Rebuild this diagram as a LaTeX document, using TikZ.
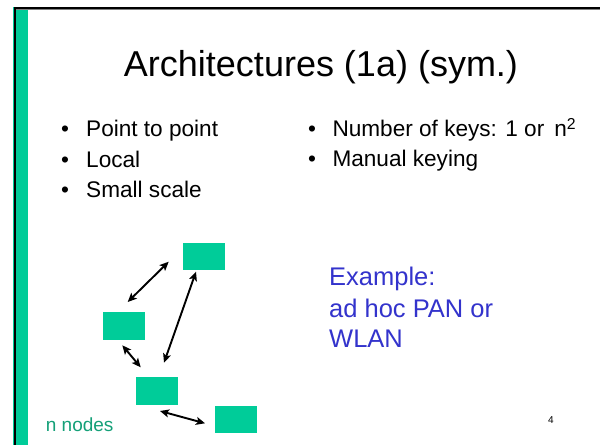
\documentclass[tikz,border=0pt]{standalone}
\usepackage{fontspec}
\setmainfont{Liberation Sans}
\usetikzlibrary{arrows.meta}
\definecolor{slidegreen}{RGB}{0,204,153}
\definecolor{notegreen}{RGB}{20,160,120}
\definecolor{exblue}{RGB}{51,51,204}
\tikzset{
  station/.style={fill=slidegreen, draw=none, minimum width=42pt, minimum height=27.5pt, inner sep=0pt},
  link/.style={line width=1.9pt, {Stealth[length=9pt,width=8pt,inset=2pt]}-{Stealth[length=9pt,width=8pt,inset=2pt]}},
  bullettext/.style={anchor=base west, inner sep=0pt, font=\fontsize{22.6}{26}\selectfont},
  bulletdot/.style={anchor=base, inner sep=0pt, font=\fontsize{22.6}{26}\selectfont},
  extext/.style={anchor=base west, inner sep=0pt, text=exblue, font=\fontsize{25.5}{30}\selectfont}
}
\begin{document}
\begin{tikzpicture}[x=1pt,y=-1pt]
\useasboundingbox (0,0) rectangle (600,445);
\fill[white] (0,0) rectangle (600,445);
% slide frame
\fill[slidegreen] (12.7,6.7) rectangle (27.7,445);
\fill[black] (14.3,6.7) rectangle (16,445);
\fill[black] (14.3,6.7) rectangle (600,8.8);
\fill[gray] (16,8.8) rectangle (600,9.6);
% title
\node[anchor=base, inner sep=0pt, font=\fontsize{36}{40}\selectfont] (title) at (321,76) {Architectures (1a) (sym.)};
% left bullets
\node[bulletdot] (d1) at (65,136.7) {•};
\node[bullettext] (b1) at (86,136.7) {Point to point};
\node[bulletdot] (d2) at (65,167.3) {•};
\node[bullettext] (b2) at (86,167.3) {Local};
\node[bulletdot] (d3) at (65,197.3) {•};
\node[bullettext] (b3) at (86,197.3) {Small scale};
% right bullets
\node[bulletdot] (d4) at (312,136.7) {•};
\node[bullettext] (b4) at (332.3,136.7) {Number of keys: 1 or\, n\textsuperscript{2}};
\node[bulletdot] (d5) at (312,166.7) {•};
\node[bullettext] (b5) at (332.3,166.7) {Manual keying};
% example
\node[extext] (ex1) at (329,285) {Example:};
\node[extext] (ex2) at (329,317.3) {ad hoc PAN or};
\node[extext] (ex3) at (329,347.3) {WLAN};
% stations
\node[station] (top) at (204,256.5) {};
\node[station] (left) at (124.3,326) {};
\node[station] (mid) at (157,391.2) {};
\node[station] (right) at (236.2,419.3) {};
% link end points
\coordinate (l1a) at (127.7,302);
\coordinate (l1b) at (168.7,261.7);
\coordinate (l2a) at (196,271.7);
\coordinate (l2b) at (164,362.7);
\coordinate (l3a) at (122.3,345.3);
\coordinate (l3b) at (140.7,367.3);
\coordinate (l4a) at (160,411);
\coordinate (l4b) at (205,423.3);
\draw[link] (l1a) -- (l1b);
\draw[link] (l2a) -- (l2b);
\draw[link] (l3a) -- (l3b);
\draw[link] (l4a) -- (l4b);
% footer
\node[anchor=base west, inner sep=0pt, text=notegreen, font=\fontsize{19}{22}\selectfont] (nn) at (45.7,431.7) {n nodes};
\node[anchor=base, inner sep=0pt, font=\fontsize{10}{12}\selectfont] (pg) at (551,423) {4};
\end{tikzpicture}
\end{document}
